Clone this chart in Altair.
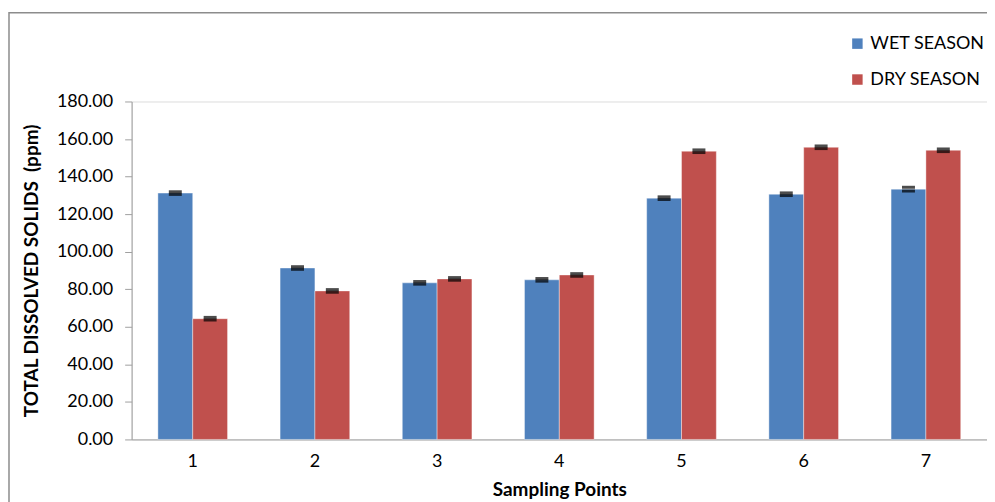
import altair as alt
import pandas as pd

points = ["1", "2", "3", "4", "5", "6", "7"]
wet = [131.2, 91.3, 83.4, 85.0, 128.5, 130.6, 133.3]
dry = [64.3, 79.1, 85.5, 87.6, 153.5, 155.6, 154.0]
wet_err = [0.7, 0.7, 0.7, 0.7, 0.7, 0.7, 1.0]
dry_err = [0.7, 0.7, 0.7, 0.7, 0.7, 0.7, 0.7]
seasons = ["WET SEASON", "DRY SEASON"]
colors = ["#4F81BD", "#C0504D"]
yticks = [0, 20, 40, 60, 80, 100, 120, 140, 160, 180]

rows = []
for i, p in enumerate(points):
    rows.append({"point": p, "season": seasons[0], "value": wet[i],
                 "lo": wet[i] - wet_err[i], "hi": wet[i] + wet_err[i]})
    rows.append({"point": p, "season": seasons[1], "value": dry[i],
                 "lo": dry[i] - dry_err[i], "hi": dry[i] + dry_err[i]})
df = pd.DataFrame(rows)

FONT = "Lato"

x = alt.X("point:N", sort=points,
          scale=alt.Scale(paddingInner=0.43, paddingOuter=0.215),
          axis=alt.Axis(title="Sampling Points", labelAngle=0, labelFontSize=18,
                        labelFont=FONT, labelColor="#000000", labelPadding=13,
                        titleFont=FONT, titleFontSize=19, titleFontWeight="bold",
                        titleColor="#000000", titlePadding=10,
                        domainColor="#a0a0a0", ticks=False))
xo = alt.XOffset("season:N", sort=seasons)

yscale = alt.Scale(domain=[0, 180])
yaxis = alt.Axis(title="TOTAL DISSOLVED SOLIDS \u00a0(ppm)", format=".2f",
                 values=yticks, labelOverlap=False,
                 grid=False, labelFontSize=18, labelFont=FONT,
                 labelColor="#000000", labelPadding=12,
                 titleFont=FONT, titleFontSize=19, titleFontWeight="bold",
                 titleColor="#000000", titlePadding=15,
                 domainColor="#a0a0a0", tickColor="#a0a0a0", tickSize=7)

bars = alt.Chart(df).mark_bar(stroke="#ffffff", strokeOpacity=0.4, strokeWidth=1).encode(
    x=x, xOffset=xo,
    y=alt.Y("value:Q", scale=yscale, axis=yaxis),
    color=alt.Color("season:N", sort=seasons,
                    scale=alt.Scale(domain=seasons, range=colors),
                    legend=alt.Legend(title=None, orient="none", legendX=719, legendY=-67,
                                      symbolType="square", symbolSize=110,
                                      symbolStrokeWidth=0, labelFont=FONT,
                                      labelFontSize=18, labelColor="#000000",
                                      rowPadding=18, labelOffset=4)),
)

cap_lo = alt.Chart(df).mark_tick(color="#000000", thickness=3, size=13, orient="horizontal").encode(
    x=x, xOffset=xo, y=alt.Y("lo:Q", scale=yscale, axis=yaxis))
cap_hi = alt.Chart(df).mark_tick(color="#000000", thickness=3, size=13, orient="horizontal").encode(
    x=x, xOffset=xo, y=alt.Y("hi:Q", scale=yscale, axis=yaxis))

border = alt.Chart(pd.DataFrame({"a": [0]})).mark_rect(
    fill=None, stroke="#8c8c8c", strokeWidth=1.5).encode(
    x=alt.value(-123), x2=alt.value(900), y=alt.value(-89), y2=alt.value(500))

chart = alt.layer(border, bars, cap_lo, cap_hi).properties(
    width=858, height=339,
    autosize=alt.AutoSizeParams(type="none"),
    padding={"left": 124, "top": 93, "right": 0, "bottom": 62},
).configure_view(stroke=None).configure_axis(labelOverlap=False).configure(background="#ffffff")

chart.save("out.html", embed_options={"renderer": "svg", "actions": False})
